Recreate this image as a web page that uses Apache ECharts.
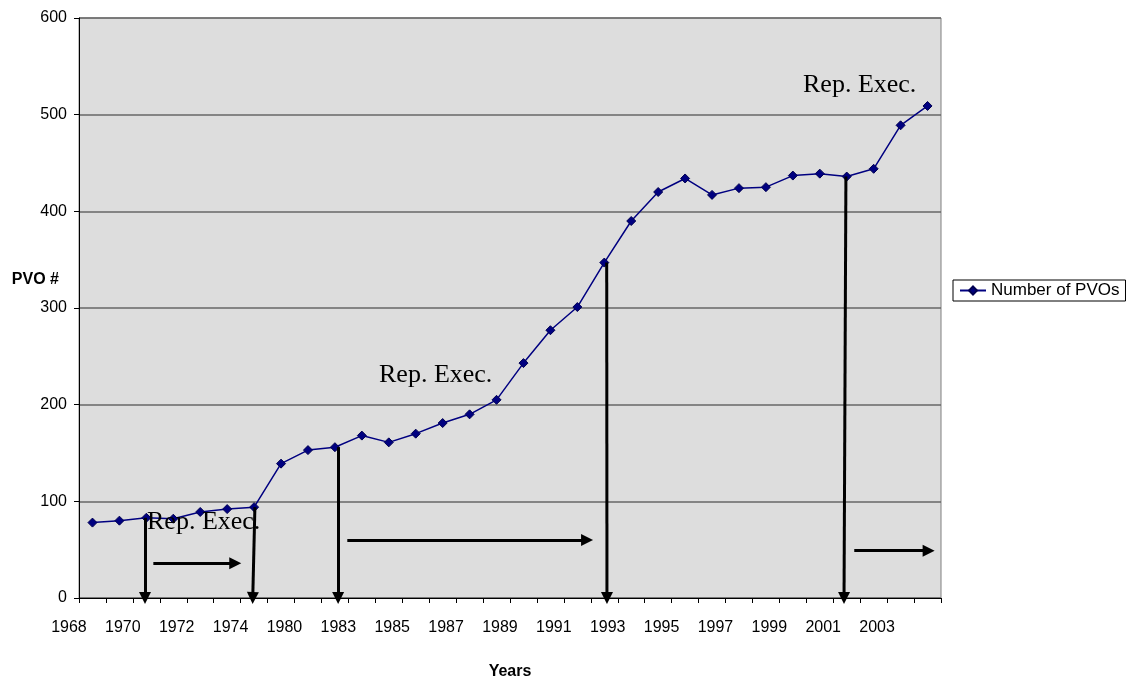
<!DOCTYPE html>
<html>
<head>
<meta charset="utf-8">
<script src="https://cdn.jsdelivr.net/npm/echarts@6/dist/echarts.min.js"></script>
<style>
  html, body { margin: 0; padding: 0; background: #fff; }
  #chart { width: 1129px; height: 679px; }
</style>
</head>
<body>
<div id="chart"></div>
<script>
// Years on the category axis (every other one is labelled)
const years = ['1968', '1969', '1970', '1971', '1972', '1973', '1974', '1977', '1980', '1982',
  '1983', '1984', '1985', '1986', '1987', '1988', '1989', '1990', '1991', '1992',
  '1993', '1994', '1995', '1996', '1997', '1998', '1999', '2000', '2001', '2002',
  '2003', '2004'];

// Number of PVOs per year
const pvos = [78, 80, 83, 82, 89, 92, 94, 139, 153, 156,
  168, 161, 170, 181, 190, 205, 243, 277, 301, 347,
  390, 420, 434, 417, 424, 425, 437, 439, 436, 444,
  489, 509];

// Y axis ticks
const yTicks = [0, 100, 200, 300, 400, 500, 600];

// Turning points: category index where each drop line starts,
// and the horizontal position of its top and foot (in category units)
const dropIndex = [2, 6, 9, 19, 28];
const dropTopX = [1.95, 6.03, 9.12, 19.09, 27.97];
const dropFootX = [1.95, 5.95, 9.12, 19.10, 27.90];

// Period arrows: start, end (category units) and level (PVO #)
const spanFrom = [2.26, 9.46, 28.28];
const spanTo = [5.30, 18.36, 31.04];
const spanLevel = [36, 60, 49];

// Period captions
const captionText = ['Rep. Exec.', 'Rep. Exec.', 'Rep. Exec.'];

const chart = echarts.init(document.getElementById('chart'), null, { renderer: 'canvas' });

const arrowLines = [];
dropIndex.forEach((idx, i) => {
  arrowLines.push({ coords: [[dropTopX[i], pvos[idx]], [dropFootX[i], 0]] });
});
spanFrom.forEach((x, i) => {
  arrowLines.push({ coords: [[x, spanLevel[i]], [spanTo[i], spanLevel[i]]] });
});

const sans = '"Liberation Sans", Arial, sans-serif';
const serif = '"Liberation Serif", "Times New Roman", serif';

const captionPos = [[147, 522], [379, 375], [803, 85]];

const captions = captionText.map((t, i) => ({
  type: 'text',
  x: captionPos[i][0],
  y: captionPos[i][1],
  z: 10,
  style: {
    text: t,
    fill: '#000',
    font: '26px ' + serif,
    textAlign: 'left',
    textVerticalAlign: 'middle'
  }
}));

// Value axis title, drawn beside the axis
const yTitle = {
  type: 'text',
  x: 59,
  y: 280,
  z: 10,
  style: {
    text: 'PVO #',
    fill: '#000',
    font: 'bold 16px ' + sans,
    textAlign: 'right',
    textVerticalAlign: 'middle'
  }
};

chart.setOption({
  animation: false,
  backgroundColor: '#ffffff',
  textStyle: { fontFamily: sans },
  grid: {
    left: 79, top: 18, width: 862, height: 580,
    outerBoundsMode: 'none',
    containLabel: false,
    show: true,
    backgroundColor: '#DDDDDD',
    borderColor: '#808080',
    borderWidth: 1
  },
  legend: {
    left: 953, top: 280,
    orient: 'vertical',
    data: ['Number of PVOs'],
    borderColor: '#000',
    borderWidth: 1,
    borderRadius: 0,
    padding: [2, 6, 2, 6],
    itemWidth: 26,
    itemHeight: 10,
    itemGap: 5,
    textStyle: { fontFamily: sans, fontSize: 17, color: '#000', lineHeight: 17 }
  },
  xAxis: [
    {
      type: 'category',
      data: years,
      boundaryGap: true,
      name: 'Years',
      nameLocation: 'middle',
      nameGap: 66,
      nameTextStyle: { fontFamily: sans, fontSize: 16, fontWeight: 'bold', color: '#000' },
      axisLine: { show: true, onZero: false, lineStyle: { color: '#000', width: 1 } },
      axisTick: { show: true, interval: 0, length: 5, lineStyle: { color: '#000' } },
      axisLabel: {
        interval: 1,
        margin: 22,
        fontFamily: sans,
        fontSize: 16,
        color: '#000',
        padding: [0, 47, 0, 0]
      },
      splitLine: { show: false }
    },
    {
      type: 'value',
      min: -0.5,
      max: 31.5,
      show: false,
      axisLine: { onZero: false }
    }
  ],
  yAxis: {
    type: 'value',
    min: yTicks[0],
    max: yTicks[yTicks.length - 1],
    interval: 100,
    axisLine: { show: true, onZero: false, lineStyle: { color: '#000', width: 1 } },
    axisTick: { show: true, length: 5, lineStyle: { color: '#000' } },
    axisLabel: { margin: 12, fontFamily: sans, fontSize: 16, color: '#000' },
    splitLine: { show: true, lineStyle: { color: '#666', width: 1.5 } }
  },
  series: [
    {
      name: 'Number of PVOs',
      type: 'line',
      xAxisIndex: 0,
      yAxisIndex: 0,
      data: pvos,
      symbol: 'diamond',
      symbolSize: 9,
      showAllSymbol: true,
      lineStyle: { color: '#000080', width: 1.5 },
      itemStyle: { color: '#000080', borderColor: '#000050', borderWidth: 1 },
      z: 3
    },
    {
      type: 'lines',
      coordinateSystem: 'cartesian2d',
      xAxisIndex: 1,
      yAxisIndex: 0,
      clip: false,
      symbol: ['none', 'triangle'],
      symbolSize: 12,
      lineStyle: { color: '#000', width: 3, opacity: 1, curveness: 0 },
      data: arrowLines,
      silent: true,
      z: 4
    }
  ],
  graphic: captions.concat([yTitle])
});
</script>
</body>
</html>
